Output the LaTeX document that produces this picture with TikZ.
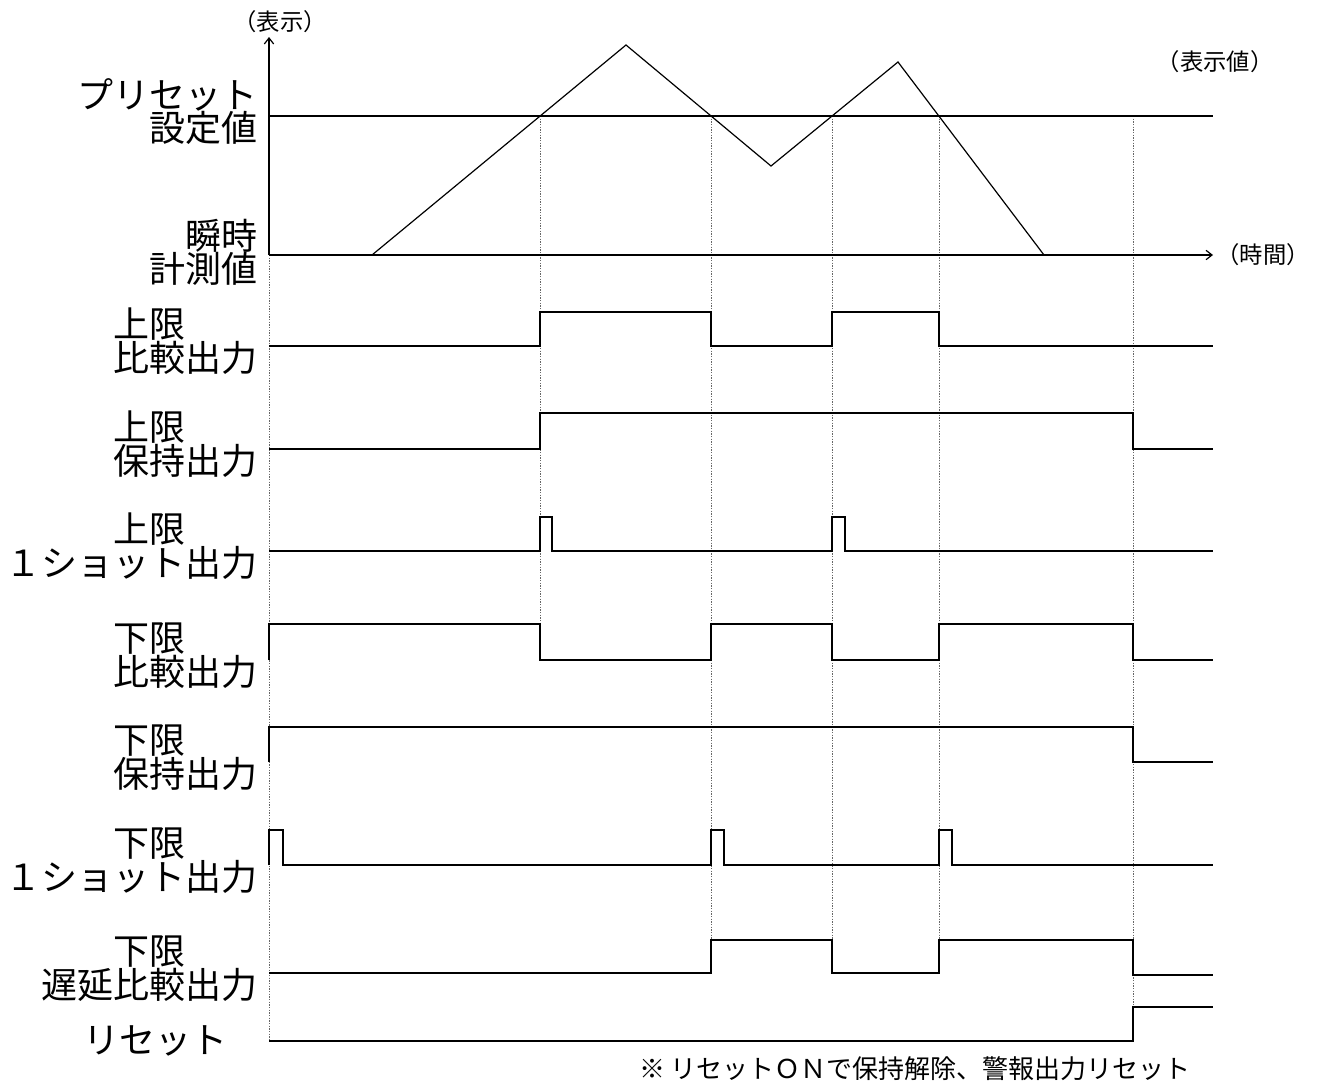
\documentclass[tikz,border=0pt]{standalone}
\usepackage{fontspec}
\newfontfamily\jp{Noto Sans CJK JP}
\usetikzlibrary{arrows.meta}
\tikzset{
  sig/.style={line width=0.9pt, black, line join=miter},
  guide/.style={gray!80!black, line width=0.6pt, dash pattern=on 1pt off 1pt},
  lab/.style={font=\jp\fontsize{27}{27}\selectfont, inner sep=0pt, text height=21.5pt, text depth=0.9pt},
  small/.style={font=\jp\fontsize{17.5}{17.5}\selectfont, inner sep=0pt, text height=14pt, text depth=1pt},
  note/.style={font=\jp\fontsize{19.5}{19.5}\selectfont, inner sep=0pt, text height=16pt, text depth=1pt},
  tip/.style={-{Straight Barb[length=4.5pt,width=7pt]}}
}
\begin{document}
\begin{tikzpicture}[x=0.75pt,y=-0.75pt]
\useasboundingbox (0,0) rectangle (1323,1086);
% guides
\draw[guide] (269,255) -- (269,1041);
\draw[guide] (540,116) -- (540,660);
\draw[guide] (711,116) -- (711,973);
\draw[guide] (832,116) -- (832,973);
\draw[guide] (939,116) -- (939,973);
\draw[guide] (1133,116) -- (1133,1041);
% axes
\draw[sig,tip] (269,255) -- (269,37);
\draw[sig,tip] (269,255) -- (1213,255);
\draw[sig] (269,116) -- (1213,116);
% measured value
\draw[sig] (269,255) -- (372,255) -- (626,45) -- (771,166) -- (898,62) -- (1044,255);
% signals
\draw[sig] (269,346) -- (540,346) -- (540,312) -- (711,312) -- (711,346) -- (832,346) -- (832,312) -- (939,312) -- (939,346) -- (1213,346);
\draw[sig] (269,449) -- (540,449) -- (540,413) -- (1133,413) -- (1133,449) -- (1213,449);
\draw[sig] (269,551) -- (540,551) -- (540,517) -- (552,517) -- (552,551) -- (832,551) -- (832,517) -- (845,517) -- (845,551) -- (1213,551);
\draw[sig] (269,660) -- (269,624) -- (540,624) -- (540,660) -- (711,660) -- (711,624) -- (832,624) -- (832,660) -- (939,660) -- (939,624) -- (1133,624) -- (1133,660) -- (1213,660);
\draw[sig] (269,762) -- (269,727) -- (1133,727) -- (1133,762) -- (1213,762);
\draw[sig] (269,865) -- (269,830) -- (283,830) -- (283,865) -- (711,865) -- (711,830) -- (724,830) -- (724,865) -- (939,865) -- (939,830) -- (952,830) -- (952,865) -- (1213,865);
\draw[sig] (269,973) -- (711,973) -- (711,940) -- (832,940) -- (832,973) -- (939,973) -- (939,940) -- (1133,940) -- (1133,975) -- (1213,975);
\draw[sig] (269,1041) -- (1133,1041) -- (1133,1007) -- (1213,1007);
% small labels
\node[small] (disp) at (280,22) {（表示）};
\node[small] (dispval) at (1215,62) {（表示値）};
\node[small] (time) at (1263,255) {（時間）};
% left labels
\node[lab,anchor=east] (ps1) at (258,95) {プリセット};
\node[lab,anchor=east] (ps2) at (258,128) {設定値};
\node[lab,anchor=east] (mv1) at (258,236) {瞬時};
\node[lab,anchor=east] (mv2) at (258,269) {計測値};
\node[lab,anchor=west] (a1) at (113,324) {上限};
\node[lab,anchor=east] (a2) at (258,358) {比較出力};
\node[lab,anchor=west] (b1) at (113,427) {上限};
\node[lab,anchor=east] (b2) at (258,461) {保持出力};
\node[lab,anchor=west] (c1) at (113,529) {上限};
\node[lab,anchor=east] (c2) at (258,563) {１ショット出力};
\node[lab,anchor=west] (d1) at (113,638) {下限};
\node[lab,anchor=east] (d2) at (258,672) {比較出力};
\node[lab,anchor=west] (e1) at (113,740) {下限};
\node[lab,anchor=east] (e2) at (258,774) {保持出力};
\node[lab,anchor=west] (f1) at (113,843) {下限};
\node[lab,anchor=east] (f2) at (258,877) {１ショット出力};
\node[lab,anchor=west] (g1) at (113,951) {下限};
\node[lab,anchor=east] (g2) at (258,985) {遅延比較出力};
\node[lab] (rst) at (155,1040) {リセット};
\node[note] (nt) at (915,1068) {※ リセットＯＮで保持解除、警報出力リセット};
\end{tikzpicture}
\end{document}
